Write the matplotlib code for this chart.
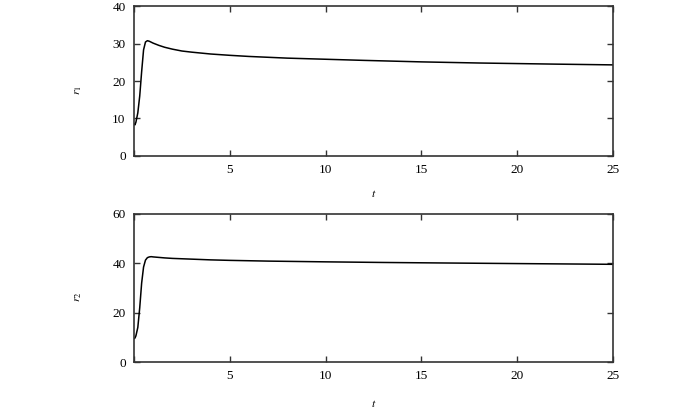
import matplotlib
matplotlib.use("Agg")
import matplotlib.pyplot as plt
import numpy as np

# r1(t)
t1 = np.array([0, 0.05, 0.1, 0.2, 0.3, 0.4, 0.5, 0.6, 0.7, 0.8, 1.0, 1.3, 1.6,
               2.0, 2.5, 3, 4, 5, 6, 8, 10, 12, 15, 18, 20, 22, 25])
r1 = np.array([8.5, 8.3, 9.0, 11.5, 16.0, 22.5, 28.3, 30.4, 30.75, 30.6, 30.1,
               29.5, 29.0, 28.5, 28.0, 27.7, 27.2, 26.85, 26.55, 26.1, 25.8,
               25.5, 25.1, 24.8, 24.65, 24.5, 24.3])

# r2(t)
t2 = np.array([0, 0.05, 0.1, 0.2, 0.3, 0.4, 0.5, 0.6, 0.7, 0.8, 0.9, 1.0, 1.3,
               1.6, 2, 3, 4, 5, 7, 10, 13, 16, 20, 25])
r2 = np.array([9.5, 9.7, 10.6, 14.0, 22.0, 32.0, 38.5, 41.3, 42.3, 42.6, 42.7,
               42.6, 42.4, 42.2, 42.0, 41.7, 41.4, 41.2, 40.9, 40.6, 40.35,
               40.15, 39.9, 39.6])

xticks = [0, 5, 10, 15, 20, 25]
xticklabels = ["", "5", "10", "15", "20", "25"]

plt.rcParams['font.family'] = ['Liberation Serif', 'DejaVu Serif']
plt.rcParams['mathtext.fontset'] = 'stix'

fig = plt.figure(figsize=(7, 4.09), dpi=100)
ax1 = fig.add_axes([0.1914, 0.6186, 0.6843, 0.3667])
ax2 = fig.add_axes([0.1914, 0.1149, 0.6843, 0.3619])

panels = [
    (ax1, t1, r1, [0, 10, 20, 30, 40], (0, 40), r'$r_1$', -0.215),
    (ax2, t2, r2, [0, 20, 40, 60], (0, 60), r'$r_2$', -0.245),
]

for ax, t, r, yt, ylim, lab, xly in panels:
    ax.plot(t, r, color='black', lw=1.1)
    ax.set_xlim(0, 25)
    ax.set_ylim(*ylim)
    ax.set_xticks(xticks)
    ax.set_xticklabels(xticklabels)
    ax.set_yticks(yt)
    ax.tick_params(direction='in', length=4, width=1, top=True, right=True,
                   labelsize=9.5, pad=6, color='#333333')
    for s in ax.spines.values():
        s.set_color('#333333')
        s.set_linewidth(1.2)
    ax.set_xlabel(r'$t$', fontsize=8.5)
    ax.xaxis.set_label_coords(0.5, xly)
    ax.set_ylabel(lab, fontsize=8.5)
    ax.yaxis.set_label_coords(-0.104, 0.44)

fig.savefig("out.png", dpi=100)
